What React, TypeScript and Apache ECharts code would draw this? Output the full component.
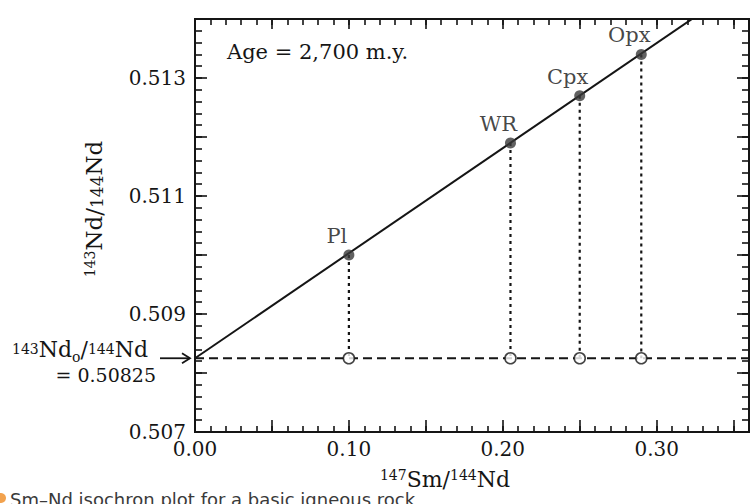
import { useEffect, useRef } from 'react';
import * as echarts from 'echarts';

// ---- data ----
const samples = ['Pl', 'WR', 'Cpx', 'Opx'];
const smNd = [0.1, 0.205, 0.25, 0.29]; // 147Sm/144Nd
const ndNd = [0.51, 0.5119, 0.5127, 0.5134]; // 143Nd/144Nd (measured, on the isochron)
const initialRatio = 0.50825; // 143Nd0/144Nd
const isochronX = [0, 0.36];
const isochronY = [0.50825, 0.51466];
const xTickLabels = ['0.00', '0.10', '0.20', '0.30'];
const yTickLabels = ['0.507', '0.509', '0.511', '0.513'];
const ageText = 'Age = 2,700 m.y.';
const captionText = 'Sm–Nd isochron plot for a basic igneous rock';

const X_MIN = 0;
const X_MAX = 0.36;
const Y_MIN = 0.507;
const Y_MAX = 0.514;

const INK = '#151515';
const SERIF = '"DejaVu Serif", "Liberation Serif", serif';

function xAxisDef(position: 'top' | 'bottom', major: boolean) {
  return {
    type: 'value',
    position,
    min: X_MIN,
    max: X_MAX,
    interval: major ? 0.05 : 0.01,
    axisLine: { show: true, onZero: false, lineStyle: { color: INK, width: 2 } },
    axisTick: { show: true, inside: true, length: major ? (position === 'bottom' ? 12 : 10) : 6, lineStyle: { color: INK, width: 1.6 } },
    axisLabel:
      major && position === 'bottom'
        ? {
            show: true,
            margin: 7,
            fontFamily: SERIF,
            fontSize: 20,
            color: INK,
            formatter: (v: number) => {
              const s = v.toFixed(2);
              return xTickLabels.includes(s) ? s : '';
            },
          }
        : { show: false },
    splitLine: { show: false },
  };
}

function yAxisDef(position: 'left' | 'right', major: boolean) {
  return {
    type: 'value',
    position,
    min: Y_MIN,
    max: Y_MAX,
    interval: major ? 0.001 : 0.0002,
    axisLine: { show: true, onZero: false, lineStyle: { color: INK, width: 2 } },
    axisTick: { show: true, inside: true, length: major ? 12 : 7, lineStyle: { color: INK, width: 1.6 } },
    axisLabel:
      major && position === 'left'
        ? {
            show: true,
            margin: 9,
            fontFamily: SERIF,
            fontSize: 20,
            color: INK,
            formatter: (v: number) => {
              const s = v.toFixed(3);
              return yTickLabels.includes(s) ? s : '';
            },
          }
        : { show: false },
    splitLine: { show: false },
  };
}

export default function App() {
  const ref = useRef<HTMLDivElement>(null);

  useEffect(() => {
    if (!ref.current) return;
    const chart = echarts.init(ref.current, null, { renderer: 'svg' });

    const option: any = {
      animation: false,
      backgroundColor: '#ffffff',
      grid: { left: 195, right: 5, top: 19, bottom: 72, containLabel: false },
      xAxis: [xAxisDef('bottom', false), xAxisDef('bottom', true), xAxisDef('top', false), xAxisDef('top', true)],
      yAxis: [yAxisDef('left', false), yAxisDef('left', true), yAxisDef('right', false), yAxisDef('right', true)],
      series: [
        {
          type: 'line',
          name: 'initial ratio',
          xAxisIndex: 1,
          yAxisIndex: 1,
          data: [
            [X_MIN, initialRatio],
            [X_MAX, initialRatio],
          ],
          symbol: 'none',
          lineStyle: { color: INK, width: 1.8, type: [9, 5] },
          z: 2,
        },
        ...samples.map((s, i) => ({
          type: 'line',
          name: s + ' drop',
          xAxisIndex: 1,
          yAxisIndex: 1,
          data: [
            [smNd[i], ndNd[i]],
            [smNd[i], initialRatio],
          ],
          symbol: 'none',
          lineStyle: { color: INK, width: 2.2, type: [3, 4] },
          z: 2,
        })),
        {
          type: 'line',
          name: 'isochron',
          xAxisIndex: 1,
          yAxisIndex: 1,
          data: isochronX.map((x, i) => [x, isochronY[i]]),
          symbol: 'none',
          clip: true,
          lineStyle: { color: INK, width: 2 },
          z: 3,
        },
        {
          type: 'scatter',
          name: 'initial',
          xAxisIndex: 1,
          yAxisIndex: 1,
          data: smNd.map((x) => [x, initialRatio]),
          symbol: 'circle',
          symbolSize: 11,
          itemStyle: { color: '#ffffff', borderColor: INK, borderWidth: 1.6 },
          z: 5,
        },
        {
          type: 'scatter',
          name: 'samples',
          xAxisIndex: 1,
          yAxisIndex: 1,
          data: samples.map((s, i) => ({ name: s, value: [smNd[i], ndNd[i]] })),
          symbol: 'circle',
          symbolSize: 11,
          itemStyle: { color: '#3a3a3a' },
          label: {
            show: true,
            position: 'top',
            distance: 3,
            offset: [-12, 0],
            formatter: '{b}',
            fontFamily: SERIF,
            fontSize: 21,
            color: INK,
          },
          z: 6,
        },
      ],
    };
    chart.setOption(option);

    const yInt = chart.convertToPixel({ xAxisIndex: 1, yAxisIndex: 1 } as any, [X_MIN, initialRatio]) as number[];
    const yi = yInt[1];
    const axisX = yInt[0];

    const richMain = { fontFamily: SERIF, fontSize: 22, lineHeight: 22, verticalAlign: 'bottom', fill: INK, color: INK };
    const richSup = { fontFamily: SERIF, fontSize: 14, lineHeight: 14, verticalAlign: 'top', fill: INK, color: INK };

    chart.setOption({
      graphic: [
        {
          type: 'text',
          x: 227,
          y: 52,
          style: { text: ageText, font: `21px ${SERIF}`, fill: INK, align: 'left', verticalAlign: 'middle' },
        },
        // y axis title
        {
          type: 'text',
          x: 94,
          y: 209,
          rotation: Math.PI / 2,
          style: {
            text: '{sup|143}{m|Nd/}{s2|144}{m|Nd}',
            align: 'center',
            verticalAlign: 'middle',
            fill: INK,
            rich: {
              m: { ...richMain, fontSize: 23, lineHeight: 23 },
              sup: richSup,
              s2: { fontFamily: SERIF, fontSize: 17, lineHeight: 18, verticalAlign: 'bottom', fill: INK },
            },
          },
        },
        // x axis title
        {
          type: 'text',
          x: 445,
          y: 479,
          style: {
            text: '{sup|147}{m|Sm/}{sup|144}{m|Nd}',
            align: 'center',
            verticalAlign: 'middle',
            fill: INK,
            rich: { m: richMain, sup: richSup },
          },
        },
        // initial ratio annotation
        {
          type: 'text',
          x: 148,
          y: yi + 6,
          style: {
            text: '{sup|143}{m|Nd}{sub|o}{m|/}{sup|144}{m|Nd}',
            align: 'right',
            verticalAlign: 'bottom',
            fill: INK,
            rich: {
              m: { ...richMain, padding: [0, 0, 4, 0] },
              sup: richSup,
              sub: { fontFamily: SERIF, fontSize: 14, lineHeight: 12, verticalAlign: 'bottom', fill: INK },
            },
          },
        },
        {
          type: 'text',
          x: 156,
          y: yi + 17,
          style: {
            text: '= ' + initialRatio.toFixed(5),
            font: `19px ${SERIF}`,
            fill: INK,
            align: 'right',
            verticalAlign: 'middle',
          },
        },
        {
          type: 'line',
          shape: { x1: 160, y1: yi, x2: axisX - 5, y2: yi },
          style: { stroke: INK, lineWidth: 1.8 },
        },
        {
          type: 'polyline',
          shape: {
            points: [
              [axisX - 13, yi - 5],
              [axisX - 5, yi],
              [axisX - 13, yi + 5],
            ],
          },
          style: { stroke: INK, lineWidth: 1.8, fill: null },
        },
        // caption fragment at the bottom
        {
          type: 'circle',
          shape: { cx: 1, cy: 498, r: 5 },
          style: { fill: '#f2a24e' },
        },
        {
          type: 'text',
          x: 10,
          y: 490,
          style: {
            text: captionText,
            font: '18px "DejaVu Sans", "Noto Sans", sans-serif',
            fill: '#3a3a3a',
            align: 'left',
            verticalAlign: 'top',
          },
        },
      ],
    });

    return () => chart.dispose();
  }, []);

  return <div ref={ref} style={{ position: 'fixed', left: 0, top: 0, width: 754, height: 504, background: '#fff' }} />;
}
